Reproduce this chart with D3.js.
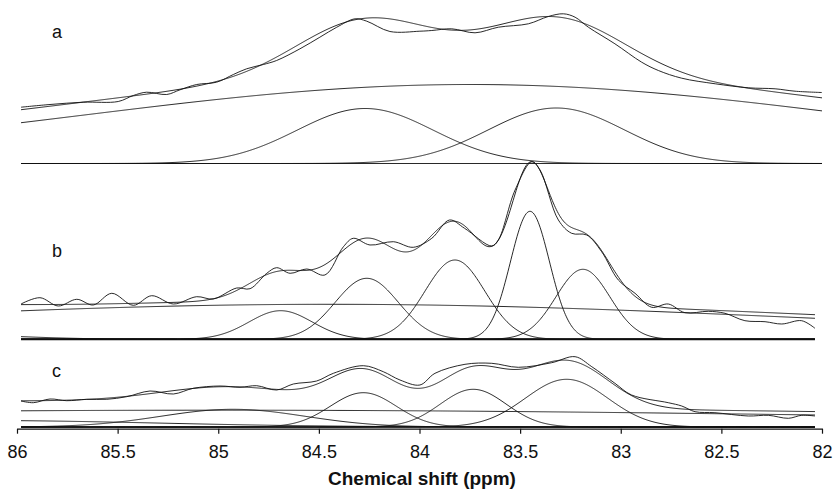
<!DOCTYPE html>
<html>
<head>
<meta charset="utf-8">
<script src="https://cdn.jsdelivr.net/npm/d3@7/dist/d3.min.js"></script>
<style>
  html, body { margin: 0; padding: 0; background: #fff; }
  svg { display: block; }
  .spec { fill: none; stroke: #111; stroke-width: 0.9; }
  .tick text { font-family: "Liberation Sans", Arial, sans-serif; font-size: 18px; fill: #111; }
  .tick line, .domain { stroke: #111; stroke-width: 1.2; }
</style>
</head>
<body>
<svg id="chart" width="835" height="492"></svg>
<script>
/* NMR deconvolution: three stacked spectra with fitted components */

const xTicks = [86, 85.5, 85, 84.5, 84, 83.5, 83, 82.5, 82];
const panelLabels = ['a', 'b', 'c'];

// measured spectra: [ppm, intensity]
const specA = [
  [85.980, 56.3], [85.836, 59], [85.671, 61.3], [85.497, 62], [85.422, 68], [85.356, 71.3],
  [85.256, 69], [85.190, 73.7], [85.107, 79], [85.008, 81.3], [84.925, 89], [84.859, 94.7],
  [84.776, 99], [84.710, 103], [84.594, 114.7], [84.495, 126.3], [84.411, 136.3], [84.320, 144.7],
  [84.262, 142.3], [84.147, 132], [83.998, 132.3], [83.939, 133], [83.840, 134.7], [83.724, 130.7],
  [83.608, 136.3], [83.459, 139.7], [83.360, 147], [83.285, 149.7], [83.227, 146.3], [83.161, 136.3],
  [83.029, 119.7], [82.896, 101.3], [82.813, 93], [82.697, 85.3], [82.530, 79.7], [82.366, 75.7],
  [82.233, 74.7], [82.134, 72.3], [82.001, 71]
];
const specB = [
  [85.980, 35.3], [85.886, 41.6], [85.795, 33.3], [85.703, 40], [85.621, 34.3], [85.529, 46],
  [85.422, 34], [85.331, 43.6], [85.223, 35.3], [85.107, 42.6], [85.025, 40.3], [84.908, 51.3],
  [84.842, 50.6], [84.759, 66], [84.710, 71.6], [84.643, 66], [84.560, 70.3], [84.470, 64.3],
  [84.378, 92.6], [84.329, 101], [84.246, 94.3], [84.130, 97.6], [84.031, 92], [83.939, 101],
  [83.851, 119.3], [83.776, 111], [83.641, 93.3], [83.608, 99.3], [83.525, 149.3], [83.442, 177.6],
  [83.401, 169.3], [83.310, 119.3], [83.244, 106], [83.169, 104.3], [83.095, 87.6], [83.012, 59.3],
  [82.929, 46], [82.846, 32], [82.764, 35.3], [82.681, 26.6], [82.565, 28], [82.482, 26],
  [82.383, 18.6], [82.283, 17.6], [82.200, 15.3], [82.101, 18.6], [82.035, 11]
];
const specC = [
  [85.980, 26], [85.919, 24.3], [85.836, 28], [85.753, 26.3], [85.654, 27.7], [85.554, 27.7],
  [85.455, 30.3], [85.339, 36], [85.223, 33], [85.124, 38.7], [84.991, 41], [84.892, 39.7],
  [84.809, 41.3], [84.710, 37], [84.627, 43], [84.511, 46], [84.428, 53.7], [84.279, 61.3],
  [84.180, 55.3], [84.097, 47], [83.998, 42], [83.923, 53.7], [83.774, 62.7], [83.641, 63.7],
  [83.509, 59.7], [83.343, 64.3], [83.227, 70.3], [83.144, 60.3], [83.029, 43.7], [82.946, 32],
  [82.764, 24.3], [82.697, 21], [82.631, 15.3], [82.532, 14.3], [82.366, 11], [82.267, 11.7],
  [82.167, 8.7], [82.101, 11.7], [82.035, 11]
];

// fitted gaussian components: [centre ppm, height, sigma ppm]
const peaksA = [[83.749, 79, 1.94], [84.27, 55, 0.338], [83.32, 55.5, 0.338]];
const peaksB = [[86.3, 4, 0.35], [84.445, 35, 2.385], [84.69, 28.6, 0.157], [84.262, 61, 0.157],
                [83.824, 79.3, 0.149], [83.451, 128, 0.097], [83.188, 70, 0.134]];
const peaksC = [[85.0, 16.8, 3.62], [86.2, 6.5, 0.9], [84.927, 17.7, 0.358], [84.279, 34.3, 0.164],
                [83.733, 37.7, 0.164], [83.269, 47.7, 0.204]];
const fitOffset = [13, 3.6, 3.4];
const ppmRange = [[85.98, 82.0], [85.98, 82.035], [85.98, 82.035]];

const baseY = [163.5, 339.3, 427];
const baseWidth = [0.9, 2, 1.4];
const labelY = [38, 257, 377];

const svg = d3.select('#chart');
const x = d3.scaleLinear().domain([86, 82]).range([17, 822]);
const y = d3.scaleLinear().domain([0, 100]).range([0, -100]); // 1 unit per px above baseline

const gauss = (p, v) => p[1] * Math.exp(-((v - p[0]) ** 2) / (2 * p[2] * p[2]));
const line = d3.line().x(d => x(d[0])).y(d => y(d[1]));
const wiggle = d3.line().x(d => x(d[0])).y(d => y(d[1])).curve(d3.curveCatmullRom.alpha(0.5));

const specs = [specA, specB, specC];
const peaks = [peaksA, peaksB, peaksC];

specs.forEach((spec, i) => {
  const g = svg.append('g').attr('transform', `translate(0,${baseY[i]})`);
  const [p0, p1] = ppmRange[i];
  const grid = d3.range(p0, p1 - 0.0001, -0.005);

  // baseline
  g.append('line')
    .attr('x1', x(p0)).attr('x2', x(p1))
    .attr('y1', 0).attr('y2', 0)
    .attr('stroke', '#111').attr('stroke-width', baseWidth[i]);

  // components
  peaks[i].forEach(p => {
    g.append('path').attr('class', 'spec')
      .attr('d', line(grid.map(v => [v, gauss(p, v)])));
  });

  // total fit
  const fit = grid.map(v => [v, fitOffset[i] + d3.sum(peaks[i], p => gauss(p, v))]);
  g.append('path').attr('class', 'spec').attr('d', line(fit));

  // experimental
  g.append('path').attr('class', 'spec').attr('d', wiggle(spec));

  svg.append('text')
    .attr('x', 52).attr('y', labelY[i])
    .style('font-family', '"Liberation Sans", Arial, sans-serif')
    .style('font-size', '18px').attr('fill', '#111')
    .text(panelLabels[i]);
});

// axis
svg.append('g')
  .attr('transform', 'translate(0,428.7)')
  .call(d3.axisBottom(x).tickValues(xTicks).tickFormat(d3.format('')).tickSize(5).tickSizeOuter(0).tickPadding(12));

svg.append('text')
  .attr('x', 422).attr('y', 485)
  .attr('text-anchor', 'middle')
  .style('font-family', '"Liberation Sans", Arial, sans-serif')
  .style('font-size', '19px').style('font-weight', 'bold').attr('fill', '#111')
  .text('Chemical shift (ppm)');
</script>
</body>
</html>
